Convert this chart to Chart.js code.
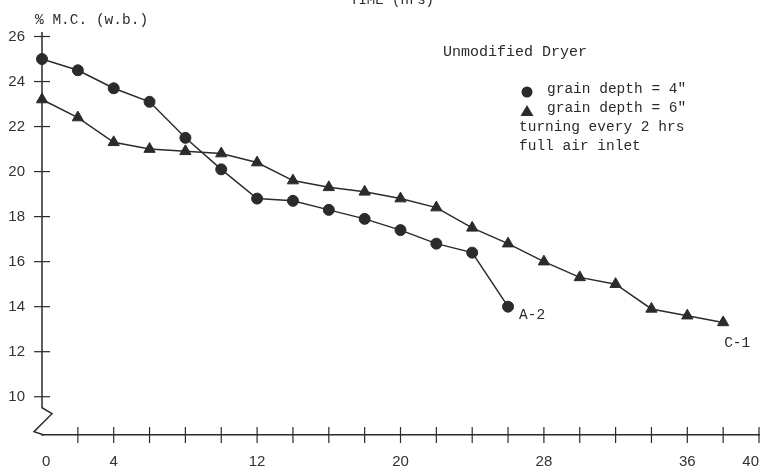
<!DOCTYPE html>
<html lang="en">
<head>
    <meta charset="UTF-8">
    <title>Unmodified Dryer - moisture content vs time</title>
    <script src="https://cdn.jsdelivr.net/npm/chart.js"></script>
    <style>
        body { margin: 0; background: #fff; }
        #wrap { width: 761px; height: 474px; position: relative; }
    </style>
</head>
<body>
<div id="wrap"><canvas id="dryerChart"></canvas></div>

<script>
    // time in hours and % moisture content (wet basis)
    const hours4 = [0, 2, 4, 6, 8, 10, 12, 14, 16, 18, 20, 22, 24, 26];
    const mc4 = [25.0, 24.5, 23.7, 23.1, 21.5, 20.1, 18.8, 18.7, 18.3, 17.9, 17.4, 16.8, 16.4, 14.0];

    const hours6 = [0, 2, 4, 6, 8, 10, 12, 14, 16, 18, 20, 22, 24, 26, 28, 30, 32, 34, 36, 38];
    const mc6 = [23.2, 22.4, 21.3, 21.0, 20.9, 20.8, 20.4, 19.6, 19.3, 19.1, 18.8, 18.4, 17.5, 16.8, 16.0, 15.3, 15.0, 13.9, 13.6, 13.3];

    const xLabelValues = [0, 4, 12, 20, 28, 36, 40];   // only these hours get a number
    const runNames = ['A-2', 'C-1'];
    const notes = ['Unmodified Dryer', 'grain depth = 4"', 'grain depth = 6"', 'turning every 2 hrs', 'full air inlet'];

    const ink = '#2b2b2b';
    const mono = '"Liberation Mono", "DejaVu Sans Mono", monospace';

    const toPoints = (xs, ys) => xs.map((h, i) => ({x: h, y: ys[i]}));

    // axes with crossing ticks, the axis break and the typed notes
    const decor = {
        id: 'decor',
        afterDraw(chart) {
            const {ctx, chartArea, scales: {x, y}} = chart;
            const L = chartArea.left;
            const B = chartArea.bottom;
            const y10 = y.getPixelForValue(10);
            ctx.save();
            ctx.strokeStyle = ink;
            ctx.lineWidth = 1.5;

            // y axis with a break below 10
            ctx.beginPath();
            ctx.moveTo(L, chartArea.top);
            ctx.lineTo(L, y10 + 11);
            ctx.lineTo(L + 10, y10 + 17);
            ctx.lineTo(L - 8, y10 + 35);
            ctx.lineTo(L + 2, B);
            ctx.stroke();

            // tick marks crossing the axes
            ctx.lineWidth = 1.2;
            y.ticks.forEach(t => {
                const py = y.getPixelForValue(t.value);
                ctx.beginPath();
                ctx.moveTo(L - 8, py);
                ctx.lineTo(L + 8, py);
                ctx.stroke();
            });
            x.ticks.forEach(t => {
                if (t.value === 0) return;
                const px = x.getPixelForValue(t.value);
                ctx.beginPath();
                ctx.moveTo(px, B - 8);
                ctx.lineTo(px, B + 8);
                ctx.stroke();
            });

            ctx.fillStyle = ink;
            ctx.textBaseline = 'alphabetic';
            ctx.textAlign = 'left';

            // axis caption and clipped title at top
            ctx.font = '14px ' + mono;
            ctx.fillText('TIME (hrs)', 350, 4);
            ctx.font = '14.5px ' + mono;
            ctx.fillText('% M.C. (w.b.)', 35, 24);

            // notes block
            ctx.font = '15px ' + mono;
            ctx.fillText(notes[0], 443, 56);
            ctx.font = '14.5px ' + mono;
            ctx.fillText(notes[1], 547, 93);
            ctx.fillText(notes[2], 547, 112);
            ctx.fillText(notes[3], 519, 131);
            ctx.fillText(notes[4], 519, 150);

            // legend glyphs
            ctx.beginPath();
            ctx.arc(527, 92, 5.5, 0, Math.PI * 2);
            ctx.fill();
            ctx.beginPath();
            ctx.moveTo(527, 105);
            ctx.lineTo(533.5, 116);
            ctx.lineTo(520.5, 116);
            ctx.closePath();
            ctx.fill();

            // run labels next to the last point of each series
            const endA = chart.getDatasetMeta(0).data[hours4.length - 1];
            const endC = chart.getDatasetMeta(1).data[hours6.length - 1];
            ctx.fillText(runNames[0], endA.x + 11, endA.y + 12);
            ctx.fillText(runNames[1], endC.x + 1, endC.y + 25);
            ctx.restore();
        }
    };

    new Chart(document.getElementById('dryerChart'), {
        type: 'line',
        data: {
            datasets: [{
                label: 'grain depth = 4"',
                data: toPoints(hours4, mc4),
                borderColor: ink,
                backgroundColor: ink,
                borderWidth: 1.5,
                pointStyle: 'circle',
                pointRadius: 5.5,
                pointBorderWidth: 1,
                tension: 0,
                clip: false
            }, {
                label: 'grain depth = 6"',
                data: toPoints(hours6, mc6),
                borderColor: ink,
                backgroundColor: ink,
                borderWidth: 1.5,
                pointStyle: 'triangle',
                pointRadius: 6.5,
                pointBorderWidth: 1,
                tension: 0,
                clip: false
            }]
        },
        options: {
            responsive: true,
            maintainAspectRatio: false,
            animation: false,
            layout: {
                autoPadding: false,
                padding: {top: 32, left: 8, right: 2, bottom: 3}
            },
            plugins: {
                legend: {display: false},
                tooltip: {enabled: false}
            },
            scales: {
                x: {
                    type: 'linear',
                    min: 0,
                    max: 40,
                    grid: {display: false, drawTicks: false},
                    border: {display: true, color: ink, width: 1.5},
                    ticks: {
                        stepSize: 2,
                        autoSkip: false,
                        maxRotation: 0,
                        align: 'inner',
                        padding: 18,
                        color: '#333',
                        font: {family: '"Liberation Sans", Arial, sans-serif', size: 15},
                        callback: v => xLabelValues.includes(v) ? String(v) : ''
                    },
                    afterFit: s => {
                        s.height = 36;
                        s.paddingLeft = 0;
                        s.paddingRight = 0;
                    }
                },
                y: {
                    min: 8.3,
                    max: 26.2,
                    grid: {display: false, drawTicks: false},
                    border: {display: false},
                    ticks: {
                        stepSize: 2,
                        includeBounds: false,
                        padding: 17,
                        color: '#333',
                        font: {family: '"Liberation Sans", Arial, sans-serif', size: 15}
                    },
                    afterFit: s => {
                        s.width = 34;
                        s.paddingTop = 0;
                        s.paddingBottom = 0;
                    }
                }
            }
        },
        plugins: [decor]
    });
</script>
</body>
</html>
